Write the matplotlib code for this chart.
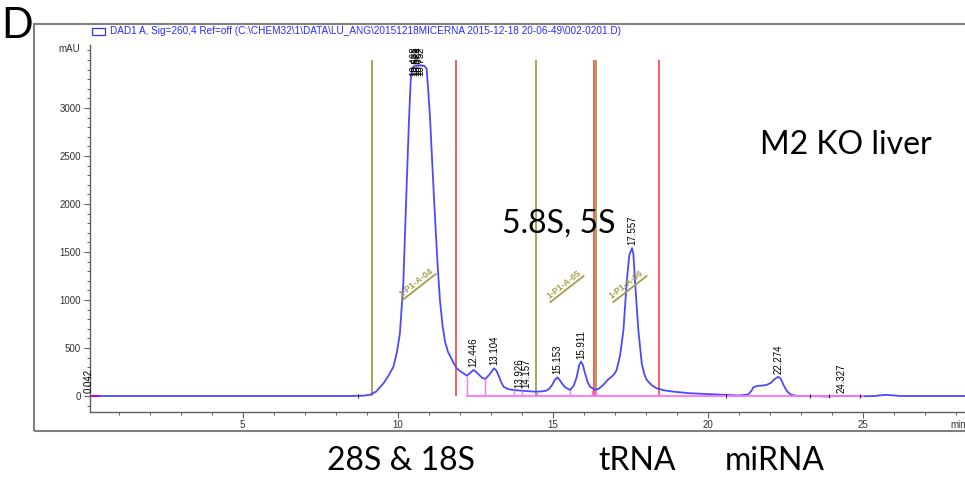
import numpy as np
import matplotlib
matplotlib.use("Agg")
import matplotlib.pyplot as plt
from matplotlib.patches import Rectangle
from matplotlib.ticker import MultipleLocator

# DAD1 A trace, 260 nm (time in min, signal in mAU)
time_min = [0.06, 1.0, 3.0, 5.0, 7.0, 8.5, 8.9, 9.1, 9.3, 9.54, 9.7, 9.86, 9.97, 10.07,
            10.18, 10.29, 10.36, 10.42, 10.47, 10.55, 10.7, 10.85, 10.93, 10.98, 11.04,
            11.12, 11.2, 11.28, 11.36, 11.45, 11.53, 11.62, 11.7, 11.8, 11.9, 12.05,
            12.17, 12.22, 12.3, 12.446, 12.58, 12.72, 12.82, 12.95, 13.104, 13.18, 13.25,
            13.33, 13.41, 13.55, 13.73, 13.95, 14.2, 14.43, 14.65, 14.8, 14.9, 14.98,
            15.06, 15.153, 15.22, 15.3, 15.4, 15.56, 15.68, 15.77, 15.85, 15.911, 15.97,
            16.04, 16.12, 16.2, 16.37, 16.48, 16.63, 16.78, 16.9, 17.0, 17.06, 17.17,
            17.28, 17.39, 17.47, 17.557, 17.6, 17.65, 17.76, 17.87, 17.95, 18.03, 18.2,
            18.35, 18.6, 18.89, 19.43, 20.0, 20.5, 21.0, 21.3, 21.4, 21.47, 21.6, 21.75,
            21.9, 22.05, 22.15, 22.274, 22.35, 22.45, 22.55, 22.68, 22.82, 23.2, 23.6,
            23.85, 24.1, 24.5, 25.0, 25.4, 25.6, 25.75, 25.9, 26.2, 27.0, 28.8]
signal_mau = [0, 0, 0, 0, 0, 0, 3, 12, 45, 132, 210, 305, 450, 653,
              1174, 2215, 2850, 3300, 3420, 3440, 3445, 3440, 3410, 3200, 2910,
              2380, 1868, 1400, 1000, 720, 560, 460, 410, 345, 288, 250,
              225, 212, 230, 271, 235, 190, 177, 220, 288, 265, 215,
              150, 97, 72, 62, 56, 50, 45, 48, 56, 80, 115,
              165, 194, 168, 130, 90, 62, 110, 194, 320, 358, 325,
              236, 150, 97, 62, 75, 115, 170, 201, 235, 271, 420,
              688, 1208, 1470, 1540, 1480, 1208, 688, 340, 230, 167, 110,
              80, 58, 45, 28, 20, 12, 5, 15, 50, 90, 105, 108,
              115, 140, 175, 200, 180, 110, 50, 15, 3, 0, -3,
              -6, 0, 0, -3, 0, 8, 12, 8, 0, 0, 0]

# retention time labels and the signal they sit on
peak_labels = ["0.042", "12.446", "13.104", "13.926", "14.157", "15.153", "15.911",
               "17.557", "22.274", "24.327"]
peak_times = [0.042, 12.446, 13.104, 13.926, 14.157, 15.153, 15.911, 17.557, 22.274, 24.327]
peak_heights = [0, 271, 288, 56, 50, 194, 358, 1540, 200, 0]
# overlapping labels on top of the big peak
top_labels = ["10.468", "10.571", "10.664", "10.752"]
top_times = [10.53, 10.60, 10.67, 10.74]

# integration windows (start = olive, end = red)
start_times = [9.17, 14.46, 16.40]
end_times = [11.88, 16.33, 18.43]
window_names = ["1-P1-A-04", "1-P1-A-05", "1-P1-A-06"]
window_label_pos = [(10.69, 1135), (15.46, 1114), (17.49, 1114)]

# drawn baseline and drop lines
baseline_span = [12.22, 25.0]
drop_times = [12.22, 12.82, 13.75, 14.0, 14.5, 15.56, 16.28, 16.40]
drop_heights = [212, 177, 62, 55, 45, 62, 65, 62]
boundary_ticks = [8.72, 20.6, 23.3, 23.9, 24.9]

legend_text = r"DAD1 A, Sig=260,4 Ref=off (C:\CHEM32\1\DATA\LU_ANG\20151218MICERNA 2015-12-18 20-06-49\002-0201.D)"

W, H = 965, 479
fig = plt.figure(figsize=(W / 100, H / 100), dpi=100)


def fx(px):
    return px / W


def fy(py):
    return 1 - py / H


ax_left, ax_right, ax_top, ax_bottom = 89.5, 980, 45, 412
ax = fig.add_axes([fx(ax_left), fy(ax_bottom), (ax_right - ax_left) / W, (ax_bottom - ax_top) / H])
xmin, xmax = 0.058, 28.78
ymin, ymax = -167, 3656
ax.set_xlim(xmin, xmax)
ax.set_ylim(ymin, ymax)
sx = (ax_right - ax_left) / (xmax - xmin)
sy = (ax_bottom - ax_top) / (ymax - ymin)

small = dict(family="Liberation Sans")
blue = "#4a4aff"
olive = "#a59d48"
red = "#ff5c5c"
pink = "#ff72ff"

ax.vlines(start_times, 0, 3500, color=olive, lw=1.3, zorder=1)
ax.vlines(end_times, 0, 3500, color=red, lw=1.4, zorder=1)

ax.plot(time_min, signal_mau, color=blue, lw=1.3, zorder=3)

ax.plot(baseline_span, [0, 0], color=pink, lw=1.3, zorder=4)
ax.plot([0.06, 0.35], [0, 0], color="#c000c0", lw=1.3, zorder=4)
ax.vlines(drop_times, 0, drop_heights, color=pink, lw=1.0, zorder=4)
ax.vlines(boundary_ticks, -25, 25, color="k", lw=0.6, zorder=5)

for lab, t, h in zip(peak_labels, peak_times, peak_heights):
    ax.annotate(lab, xy=(t, h), xytext=(0, 3), textcoords="offset pixels",
                rotation=90, ha="center", va="bottom", fontsize=7, **small)
for lab, t in zip(top_labels, top_times):
    ax.annotate(lab, xy=(t, 3440), xytext=(0, -10), textcoords="offset pixels",
                rotation=90, ha="center", va="bottom", fontsize=7, **small)

ang = np.deg2rad(38)
half = 21
for name, (t, m) in zip(window_names, window_label_pos):
    dt = half * np.cos(ang) / sx
    dm = half * np.sin(ang) / sy
    ax.plot([t - dt, t + dt], [m - dm, m + dm], color=olive, lw=1.3, zorder=6)
    ax.annotate(name, xy=(t, m), xytext=(-1.2 * np.sin(ang), 1.2 * np.cos(ang)),
                textcoords="offset pixels", rotation=38, rotation_mode="anchor",
                ha="center", va="bottom", fontsize=6.3, color=olive,
                fontweight="bold", **small)

for side in ["top", "right"]:
    ax.spines[side].set_visible(False)
for side in ["left", "bottom"]:
    ax.spines[side].set_color("#606060")
    ax.spines[side].set_linewidth(1.0)
ax.set_yticks(range(0, 3001, 500))
ax.yaxis.set_minor_locator(MultipleLocator(100))
ax.xaxis.set_major_locator(MultipleLocator(5))
ax.xaxis.set_minor_locator(MultipleLocator(1))
ax.tick_params(which="major", direction="out", length=4, width=0.8, color="#606060",
               labelsize=7, labelcolor="#333333", pad=2)
ax.tick_params(which="minor", direction="out", length=2, width=0.7, color="#606060")
for lbl in ax.get_xticklabels() + ax.get_yticklabels():
    lbl.set_family("Liberation Sans")
ax.patch.set_alpha(0)

fig.text(fx(80), fy(49), "mAU", ha="right", va="center", fontsize=7, color="#333333", **small)
fig.text(fx(950), fy(425), "min", ha="left", va="center", fontsize=7, color="#333333", **small)

# outer frame and legend entry
fig.add_artist(Rectangle((fx(34), fy(431)), (1000 - 34) / W, (431 - 24) / H,
                         transform=fig.transFigure, fill=False, ec="#808080", lw=1.5))
fig.add_artist(Rectangle((fx(92), fy(34.5)), 13 / W, 6 / H, transform=fig.transFigure,
                         fill=False, ec="#3030ff", lw=0.9))
fig.text(fx(110), fy(31), legend_text, ha="left", va="center", fontsize=7.2,
         color="#2b2bff", **small)

big = dict(family="Lato", fontsize=23, color="black", ha="left", va="baseline")
fig.text(fx(1), fy(38), "D", **{**big, "fontsize": 30})
fig.text(fx(760), fy(154), "M2 KO liver", **big)
fig.text(fx(502), fy(233), "5.8S, 5S", **big)
fig.text(fx(327), fy(470), "28S & 18S", **big)
fig.text(fx(598), fy(470), "tRNA", **big)
fig.text(fx(725), fy(470), "miRNA", **big)

fig.savefig("out.png", dpi=100)
